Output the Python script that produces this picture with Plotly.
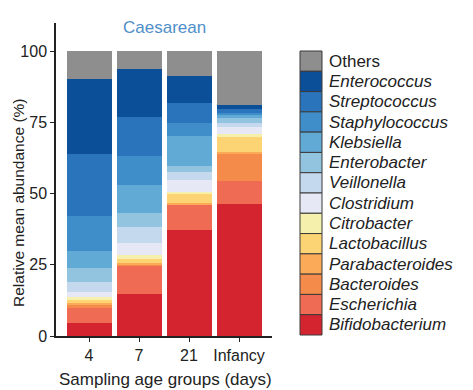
import plotly.graph_objects as go

groups = ["4", "7", "21", "Infancy"]

# Stacked from bottom to top
taxa = ["Bifidobacterium", "Escherichia", "Bacteroides", "Parabacteroides",
        "Lactobacillus", "Citrobacter", "Clostridium", "Veillonella",
        "Enterobacter", "Klebsiella", "Staphylococcus", "Streptococcus",
        "Enterococcus", "Others"]

colors = ["#d42430", "#f06b53", "#f58b4b", "#fbab58",
          "#fdd474", "#f6f0ad", "#e6e9f5", "#c4d9ee",
          "#92c4e0", "#62aad6", "#3f8dc9", "#2a74bb",
          "#0a4f98", "#8e8e8e"]

bifidobacterium = [4.4, 14.9, 37.1, 46.2]
escherichia     = [5.5, 10.0, 8.9, 8.3]
bacteroides     = [0.9, 0.3, 0.3, 9.4]
parabacteroides = [0.8, 0.3, 0.2, 0.5]
lactobacillus   = [1.2, 1.6, 3.4, 5.3]
citrobacter     = [1.0, 1.3, 0.6, 1.2]
clostridium     = [1.7, 4.2, 4.3, 2.3]
veillonella     = [3.3, 5.6, 2.6, 1.7]
enterobacter    = [4.9, 4.9, 2.2, 1.5]
klebsiella      = [6.0, 10.0, 10.7, 1.2]
staphylococcus  = [12.4, 10.2, 4.6, 0.7]
streptococcus   = [21.8, 13.6, 6.8, 1.2]
enterococcus    = [26.4, 16.7, 9.6, 1.6]
others          = [9.7, 6.4, 8.7, 18.9]

values = [bifidobacterium, escherichia, bacteroides, parabacteroides,
          lactobacillus, citrobacter, clostridium, veillonella,
          enterobacter, klebsiella, staphylococcus, streptococcus,
          enterococcus, others]

y_ticks = [0, 25, 50, 75, 100]

fig = go.Figure()
for name, vals, col in zip(taxa, values, colors):
    fig.add_trace(go.Bar(x=groups, y=vals, name=name,
                         marker=dict(color=col, line=dict(width=0)),
                         showlegend=False))

# page body margin offset (8px) compensation
OFF = 8
W, H = 473 - OFF, 390 - OFF
# plot area in window pixels: x 56..272, y 23..336
PX0, PX1, PY0, PY1 = 56, 272, 23, 336
L, R = PX0 - OFF, W - (PX1 - OFF)
T, B = PY0 - OFF, H - (PY1 - OFF)
pw, ph = PX1 - PX0, PY1 - PY0

def px_x(x):
    return (x - PX0) / pw

def px_y(y):
    return (PY1 - y) / ph

shapes = []
annotations = []
# Custom legend: top item is Others, bottom Bifidobacterium
leg_top, leg_bot = 51, 335
n = len(taxa)
step = (leg_bot - leg_top) / n
for i, (name, col) in enumerate(zip(reversed(taxa), reversed(colors))):
    y0 = leg_top + i * step
    y1 = y0 + step
    shapes.append(dict(type="rect", xref="paper", yref="paper",
                       x0=px_x(300), x1=px_x(322), y0=px_y(y1), y1=px_y(y0),
                       fillcolor=col, line=dict(color="#3a3a3a", width=1)))
    label = name if name == "Others" else "<i>" + name + "</i>"
    annotations.append(dict(xref="paper", yref="paper", x=px_x(327),
                            y=px_y((y0 + y1) / 2), text=label, showarrow=False,
                            xanchor="left", yanchor="middle",
                            font=dict(size=17, color="#222222")))

annotations.append(dict(xref="paper", yref="paper", x=px_x(164), y=px_y(27),
                        text="Caesarean", showarrow=False, xanchor="center",
                        yanchor="middle", font=dict(size=17, color="#4f8fc9")))
annotations.append(dict(xref="paper", yref="paper", x=px_x(165), y=px_y(379),
                        text="Sampling age groups (days)", showarrow=False,
                        xanchor="center", yanchor="middle",
                        font=dict(size=17, color="#222222")))
annotations.append(dict(xref="paper", yref="paper", x=px_x(19), y=px_y(203),
                        text="Relative mean abundance (%)", showarrow=False,
                        textangle=-90, xanchor="center", yanchor="middle",
                        font=dict(size=15.5, color="#222222")))

ymax = 100 * (PY1 - PY0) / (PY1 - 51)

fig.update_layout(
    width=W, height=H,
    margin=dict(l=L, r=R, t=T, b=B),
    barmode="stack", bargap=0.1,
    plot_bgcolor="white", paper_bgcolor="white",
    font=dict(family="Liberation Sans, Arial, sans-serif", size=16, color="#222222"),
    shapes=shapes, annotations=annotations,
    xaxis=dict(type="category", range=[-0.66, 3.66], showline=True,
               linecolor="#222222", linewidth=1.5, ticks="outside", ticklen=4,
               tickcolor="#222222", showgrid=False, zeroline=False,
               tickfont=dict(size=16)),
    yaxis=dict(range=[0, ymax], tickvals=y_ticks, showline=True,
               linecolor="#222222", linewidth=1.5, ticks="outside", ticklen=4,
               tickcolor="#222222", showgrid=False, zeroline=False,
               tickfont=dict(size=16)),
)

fig.write_html("out.html")
